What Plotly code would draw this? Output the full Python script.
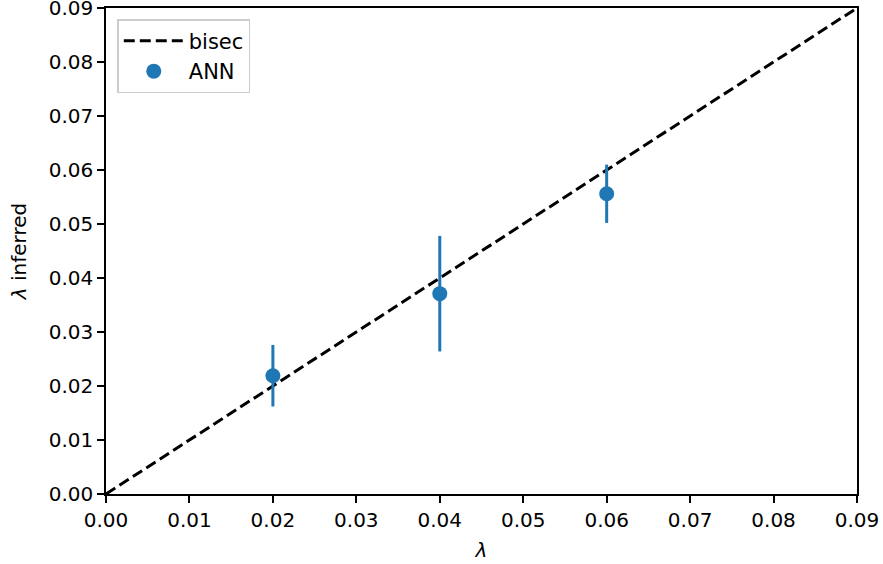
import plotly.graph_objects as go

lam_true = [0.02, 0.04, 0.06]
lam_inferred = [0.0219, 0.0371, 0.0556]
lam_err = [0.0057, 0.0107, 0.0054]
bisec_x = [0.0, 0.09]
bisec_y = [0.0, 0.09]
ticks = [0.00, 0.01, 0.02, 0.03, 0.04, 0.05, 0.06, 0.07, 0.08, 0.09]
tick_text = [f"{t:.2f}" for t in ticks]

fig = go.Figure()
fig.add_trace(go.Scatter(
    x=bisec_x, y=bisec_y, mode="lines", name="bisec",
    line=dict(color="black", width=3, dash="11px,5px"),
    cliponaxis=False,
))
fig.add_trace(go.Scatter(
    x=lam_true, y=lam_inferred, mode="markers", name="ANN",
    marker=dict(color="#1f77b4", size=15),
    error_y=dict(type="data", array=lam_err, visible=True, color="#1f77b4", thickness=3, width=0),
))

axis_common = dict(
    range=[0, 0.09], tickvals=ticks, ticktext=tick_text,
    showline=True, linecolor="black", linewidth=1.6, mirror=True,
    ticks="outside", ticklen=7, tickwidth=1.6, tickcolor="black",
    showgrid=False, zeroline=False, automargin=False,
    ticklabeloverflow="allow",
    tickfont=dict(family="DejaVu Sans", size=20, color="black"),
)

fig.update_layout(
    width=883, height=564,
    margin=dict(l=106, r=26, t=8, b=70),
    paper_bgcolor="white", plot_bgcolor="white",
    font=dict(family="DejaVu Sans", size=20, color="black"),
    xaxis=dict(**axis_common, title=dict(text="<i>λ</i>", standoff=12, font=dict(size=20))),
    yaxis=dict(**axis_common, title=dict(text="<i>λ</i> inferred", standoff=17, font=dict(size=20))),
    legend=dict(
        x=0.015, y=0.977, xanchor="left", yanchor="top",
        bgcolor="rgba(255,255,255,0.8)", bordercolor="#cccccc", borderwidth=1.5,
        font=dict(family="DejaVu Sans", size=21),
        itemwidth=60,
    ),
    showlegend=True,
)

fig.write_html(
    "out.html",
    config={"displayModeBar": False},
    post_script="document.body.style.margin='0';document.body.style.padding='0';",
)
